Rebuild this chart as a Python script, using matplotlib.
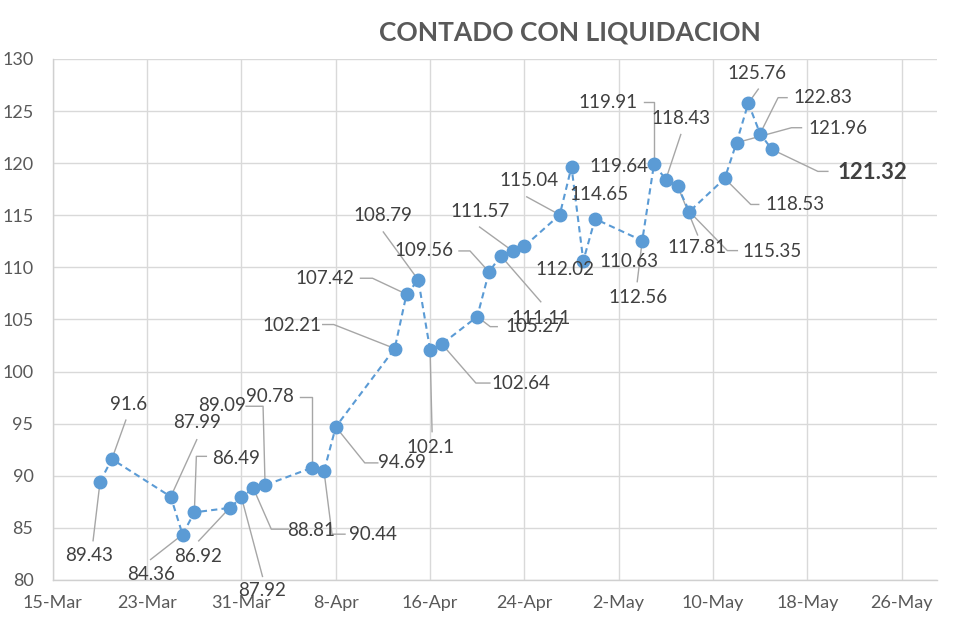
import numpy as np
import matplotlib
matplotlib.use('Agg')
import matplotlib.pyplot as plt
import matplotlib.dates as mdates

plt.rcParams['font.family'] = ['Lato', 'DejaVu Sans']

# Data: CCL quotes, 2020
dates = ['2020-03-19', '2020-03-20', '2020-03-25', '2020-03-26', '2020-03-27',
         '2020-03-30', '2020-03-31', '2020-04-01', '2020-04-02', '2020-04-06',
         '2020-04-07', '2020-04-08', '2020-04-13', '2020-04-14', '2020-04-15',
         '2020-04-16', '2020-04-17', '2020-04-20', '2020-04-21', '2020-04-22',
         '2020-04-23', '2020-04-24', '2020-04-27', '2020-04-28', '2020-04-29',
         '2020-04-30', '2020-05-04', '2020-05-05', '2020-05-06', '2020-05-07',
         '2020-05-08', '2020-05-11', '2020-05-12', '2020-05-13', '2020-05-14',
         '2020-05-15']
values = [89.43, 91.6, 87.99, 84.36, 86.49, 86.92, 87.92, 88.81, 89.09, 90.78,
          90.44, 94.69, 102.21, 107.42, 108.79, 102.1, 102.64, 105.27, 109.56, 111.11,
          111.57, 112.02, 115.04, 119.64, 110.63, 114.65, 112.56, 119.91, 118.43, 117.81,
          115.35, 118.53, 121.96, 125.76, 122.83, 121.32]
tick_dates = ['2020-03-15', '2020-03-23', '2020-03-31', '2020-04-08', '2020-04-16',
              '2020-04-24', '2020-05-02', '2020-05-10', '2020-05-18', '2020-05-26']

# label placement (pixel offsets from the point) and leader line vertices
label_off = [(-11, -74), (17, 55), (26, 74), (-32, -40), (42, 54), (-32, -49),
             (21, -93), (58, -42), (-43, 80), (-42, 71), (49, -63), (66, -36),
             (-103, 23), (-82, 16), (-35, 64), (0, -98), (79, -39), (58, -10),
             (-65, 21), (40, -63), (-33, 39), (41, -23), (-31, 34), (47, 0),
             (46, -1), (4, 24), (-4, -57), (-46, 62), (15, 61), (19, -62),
             (83, -40), (70, -26), (101, 14), (9, 30), (63, 36), (101, -23)]
leaders = [[(-7, -59)], [(14, 39)], [(26, 57)], [(-32, -25)], [(2, 56), (12, 56)],
           [(-31, -33)], [(21, -79)], [(18, -41), (35, -41)], [(-2, 79), (-19, 79)],
           [(0, 71), (-12, 71)], [(8, -63), (21, -63)], [(29, -36), (42, -36)],
           [(-61, 24), (-72, 24)], [(-34, 16), (-46, 16)], [(-35, 48)], [(2, -82)],
           [(34, -39), (48, -39)], [(13, -10), (20, -10)], [(-19, 21), (-30, 21)],
           [(40, -46)], [(-33, 24)], None, [(-33, 18)], None, None, None,
           [(-5, -41)], [(0, 62), (-10, 62)], [(15, 45)], [(20, -49)],
           [(38, -39), (48, -39)], [(26, -26), (34, -26)], [(55, 15), (65, 15)],
           [(10, 14)], [(18, 36), (27, 36)], [(46, -22), (56, -22)]]

x = mdates.date2num(np.array(dates, dtype='datetime64[D]'))
ticks = mdates.date2num(np.array(tick_dates, dtype='datetime64[D]'))

fig = plt.figure(figsize=(9.8, 6.27), dpi=100)
ax = fig.add_axes([0.054, 0.075, 0.902, 0.831])

blue = '#5B9BD5'
ax.plot(x, values, linestyle=(0, (3, 2)), color=blue, linewidth=1.5,
        marker='o', markersize=9, markerfacecolor=blue, markeredgecolor=blue, zorder=3)

ax.set_xlim(ticks[0], ticks[0] + 75)
ax.set_ylim(80, 130)
ax.set_yticks(np.arange(80, 131, 5))
ax.set_xticks(ticks)
ax.xaxis.set_major_formatter(plt.FuncFormatter(
    lambda v, p: '%d-%s' % (mdates.num2date(v).day, mdates.num2date(v).strftime('%b'))))

ax.grid(True, color='#D9D9D9', linewidth=1.0)
ax.set_axisbelow(True)
for s in ['top', 'right']:
    ax.spines[s].set_visible(False)
for s in ['left', 'bottom']:
    ax.spines[s].set_color('#D0D0D0')
    ax.spines[s].set_linewidth(1.0)
ax.tick_params(axis='both', length=0, labelsize=13, colors='#595959')
ax.tick_params(axis='y', pad=14)
ax.tick_params(axis='x', pad=11)

ax.set_title('CONTADO CON LIQUIDACION', fontsize=19, fontweight='bold',
             color='#595959', x=0.585, pad=13)

# data labels with leader lines
inv = ax.transData.inverted()
for i in range(len(values)):
    px, py = ax.transData.transform((x[i], values[i]))
    if leaders[i] is not None:
        verts = [(px, py)] + [(px + dx, py + dy) for dx, dy in leaders[i]]
        dv = inv.transform(np.array(verts))
        ax.plot(dv[:, 0], dv[:, 1], color='#A6A6A6', linewidth=1.0, zorder=2, clip_on=False)
    last = i == len(values) - 1
    ax.annotate(str(values[i]), xy=(x[i], values[i]), xytext=label_off[i],
                textcoords='offset pixels', ha='center', va='center',
                fontsize=16 if last else 13.5, fontweight='bold' if last else 'normal',
                color='#404040', zorder=4, annotation_clip=False)

fig.savefig('out.png', dpi=100)
